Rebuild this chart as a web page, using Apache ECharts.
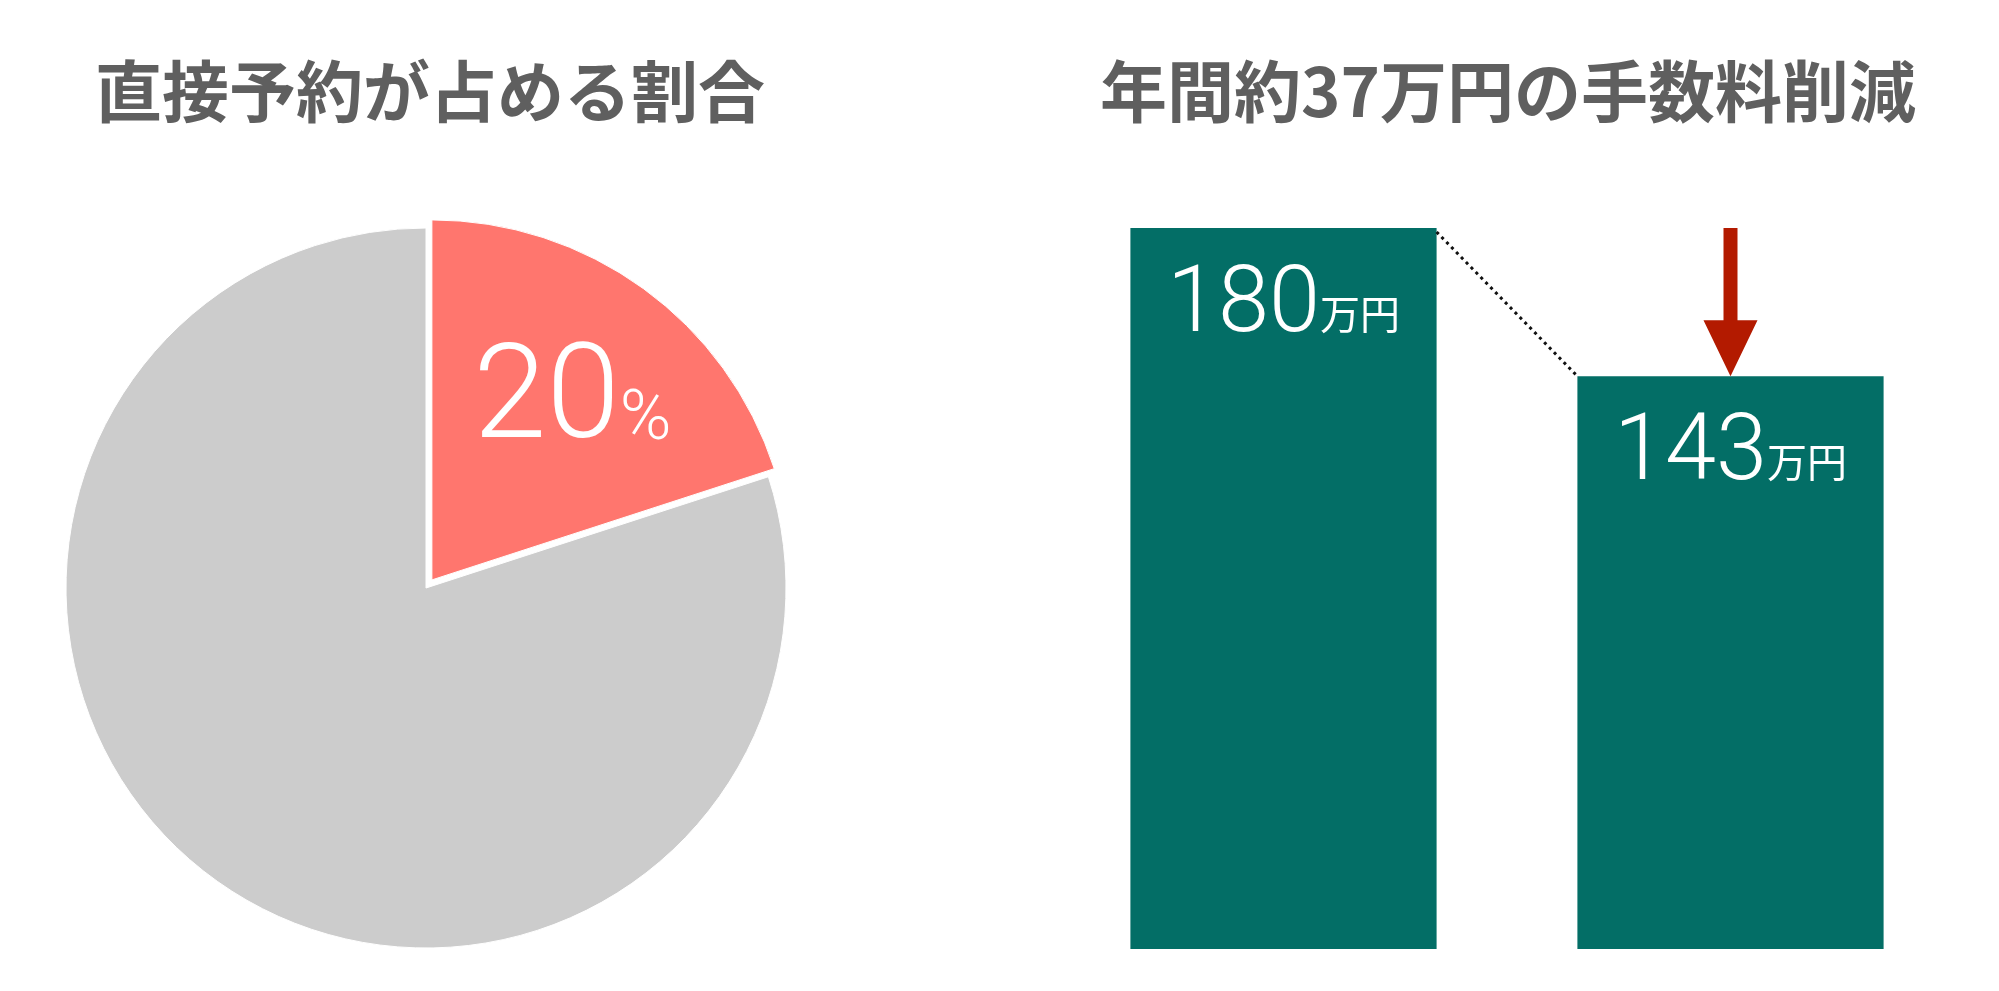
<!DOCTYPE html>
<html><head><meta charset="utf-8">
<script src="https://cdn.jsdelivr.net/npm/echarts@6/dist/echarts.min.js"></script>
<style>html,body{margin:0;padding:0;background:#fff}#c{width:1999px;height:991px}</style>
</head><body><div id="c"></div>
<script>
const pieTitle = '直接予約が占める割合';
const barTitle = '年間約37万円の手数料削減';
const pieNames = ['直接予約', 'その他'];
const pieValues = [20, 80];
const pctUnit = '%';
const barCategories = ['導入前', '導入後'];
const barValues = [180, 143];
const barUnit = '万円';

const TEAL = '#036E66', RED = '#FF766E', GREY = '#CCCCCC', DARKRED = '#B31A00', TITLE = '#5F5F5F';
const BAR_RATIO = 0.685;
const NUM_FONT = 'Roboto, Lato, "Noto Sans", sans-serif';
const JP_FONT = '"Noto Sans CJK JP", "Noto Sans", sans-serif';

const chart = echarts.init(document.getElementById('c'), null, {renderer: 'canvas'});
const titleStyle = {color: TITLE, fontSize: 67, fontWeight: 'bold', fontFamily: JP_FONT};
const option = {
  animation: false,
  backgroundColor: '#ffffff',
  title: [
    {text: pieTitle, left: 430, top: 58, padding: 0, textAlign: 'center', textStyle: titleStyle},
    {text: barTitle, left: 1508, top: 58, padding: 0, textAlign: 'center', textStyle: titleStyle}
  ],
  grid: {left: 1060, right: 45, top: 228, bottom: 42},
  xAxis: {type: 'category', data: barCategories, show: false},
  yAxis: {type: 'value', min: 0, max: 180, show: false},
  series: [
    {
      type: 'pie',
      center: [426, 588],
      radius: 360,
      startAngle: 90,
      clockwise: true,
      selectedMode: 'single',
      selectedOffset: 10,
      silent: true,
      emphasis: {disabled: true},
      itemStyle: {borderColor: '#ffffff', borderWidth: 1},
      data: pieNames.map((n, i) => ({
        name: n, value: pieValues[i], selected: i === 0,
        itemStyle: {color: i === 0 ? RED : GREY},
        select: {itemStyle: {color: i === 0 ? RED : GREY, borderColor: '#ffffff', borderWidth: 1}},
        label: {show: i === 0}
      })),
      label: {
        position: 'inside',
        formatter: p => '{a|' + p.value + '}{b|' + pctUnit + '}',
        rich: {
          a: {fontSize: 132, fontFamily: NUM_FONT, fontWeight: 300, color: '#fff', verticalAlign: 'bottom'},
          b: {fontSize: 70, fontFamily: NUM_FONT, fontWeight: 300, color: '#fff', verticalAlign: 'bottom', height: 96}
        }
      },
      labelLine: {show: false},
      labelLayout: {dx: 33, dy: -28}
    },
    {
      type: 'bar',
      data: barValues,
      barWidth: (BAR_RATIO * 100) + '%',
      itemStyle: {color: TEAL},
      silent: true,
      label: {
        show: true,
        position: 'insideTop',
        distance: 34,
        formatter: p => '{n|' + p.value + '}{u|' + barUnit + '}',
        rich: {
          n: {fontSize: 92, fontFamily: NUM_FONT, fontWeight: 300, color: '#fff', verticalAlign: 'bottom'},
          u: {fontSize: 40, fontFamily: JP_FONT, color: '#fff', verticalAlign: 'bottom', height: 80}
        }
      }
    },
    {
      type: 'custom',
      silent: true,
      z: 5,
      data: [[0, barValues[0], 1, barValues[1]]],
      renderItem: (params, api) => {
        const p1 = api.coord([api.value(0), api.value(1)]);
        const p2 = api.coord([api.value(2), api.value(3)]);
        const hw = api.size([1, 0])[0] * BAR_RATIO / 2;
        return {type: 'line', shape: {x1: p1[0] + hw, y1: p1[1] + 4, x2: p2[0] - hw, y2: p2[1]},
          style: {stroke: '#111111', lineWidth: 3, lineDash: [3, 4]}};
      }
    },
    {
      type: 'custom',
      silent: true,
      z: 6,
      data: [[1, barValues[0], barValues[1]]],
      renderItem: (params, api) => {
        const top = api.coord([api.value(0), api.value(1)]);
        const tip = api.coord([api.value(0), api.value(2)]);
        const x = top[0], sw = 14, hw = 54, hl = 56;
        const hy = tip[1] - hl;
        return {type: 'polygon', shape: {points: [
          [x - sw / 2, top[1]], [x + sw / 2, top[1]], [x + sw / 2, hy], [x + hw / 2, hy],
          [x, tip[1]], [x - hw / 2, hy], [x - sw / 2, hy]]},
          style: {fill: DARKRED}};
      }
    }
  ]
};
chart.setOption(option);
</script>
</body></html>
